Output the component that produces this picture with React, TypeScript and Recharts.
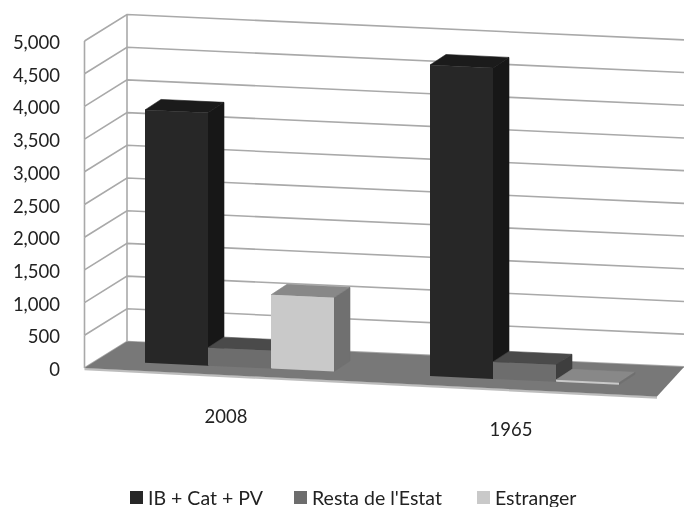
import React from "react";
import { BarChart, Bar, XAxis, YAxis, CartesianGrid, Legend } from "recharts";

const categories = ["2008", "1965"];
const ibCatPv = [3865, 4755];
const restaEstat = [275, 260];
const estranger = [1127, 30];
const yTicks = [0, 500, 1000, 1500, 2000, 2500, 3000, 3500, 4000, 4500, 5000];
const seriesNames = ["IB + Cat + PV", "Resta de l'Estat", "Estranger"];
const seriesFills = ["#272727", "#6d6d6d", "#c9c9c9"];

const rows = categories.map((c, i) => ({
  cat: c,
  ib: ibCatPv[i],
  resta: restaEstat[i],
  est: estranger[i],
}));

const FONT = "Lato, Carlito, sans-serif";
const TEXT = "#222";
const GRID = "#a9a9a9";
const SLOPE = 0.0465;
const LEFT_X = 84.5;
const BACK_X = 127;
const WALL_DY = -26.5;
const PLOT_BOTTOM = 368;
const STEP = 32.7;
const RIGHT_X = 684;
const DX = 16;
const DY = -10.5;

const tilt = (x: number) => (x - 145) * SLOPE - 5.3;

const pts = (a: number[][]) => a.map((p) => p.join(",")).join(" ");

const box = (front: string, top: string, side: string) => (props: any) => {
  const { x, y, width: w, height: h } = props;
  const yb = y + h;
  const l = tilt(x);
  const r = tilt(x + w);
  return (
    <g>
      <polygon
        points={pts([[x, y + l], [x + DX, y + l + DY], [x + w + DX, y + r + DY], [x + w, y + r]])}
        fill={top}
        stroke={top}
        strokeWidth={0.6}
      />
      <polygon
        points={pts([[x + w, y + r], [x + w + DX, y + r + DY], [x + w + DX, yb + r + DY], [x + w, yb + r]])}
        fill={side}
        stroke={side}
        strokeWidth={0.6}
      />
      <polygon points={pts([[x, y + l], [x + w, y + r], [x + w, yb + r], [x, yb + l]])} fill={front} />
    </g>
  );
};

const gridLine = (props: any) => {
  const y = props.y1;
  const isBottom = Math.abs(y - PLOT_BOTTOM) < 1;
  const by = y + WALL_DY;
  return (
    <g key={props.key ?? y}>
      <polyline
        points={pts([[LEFT_X, y], [BACK_X, by], [RIGHT_X, by + (RIGHT_X - BACK_X) * 0.0455]])}
        fill="none"
        stroke={GRID}
        strokeWidth={1.6}
      />
      {!isBottom && <line x1={LEFT_X} x2={LEFT_X} y1={y} y2={y + STEP} stroke={GRID} strokeWidth={1.6} />}
      {!isBottom && <line x1={BACK_X} x2={BACK_X} y1={by} y2={by + STEP} stroke={GRID} strokeWidth={1.6} />}
      {isBottom && (
        <g>
          <line x1={LEFT_X} y1={y + 1} x2={657} y2={397.5} stroke="#bdbdbd" strokeWidth={2.5} />
          <polygon
            points={pts([[LEFT_X, y], [BACK_X, by], [RIGHT_X, 367], [657, 396.5]])}
            fill="#787878"
          />
        </g>
      )}
    </g>
  );
};

const XTick = (props: any) => {
  const cx = props.x - 13.5;
  const y = 416.7 + (cx - 226) * SLOPE;
  return (
    <text x={cx} y={y} dy={6.5} textAnchor="middle" fontFamily={FONT} fontSize={18.5} fill={TEXT}>
      {props.payload.value}
    </text>
  );
};

const legendLefts = [130, 294, 477];
const LegendContent = () => (
  <div style={{ position: "relative", height: 22, width: 684, fontFamily: FONT, fontSize: 19.5, color: TEXT }}>
    {seriesNames.map((name, i) => (
      <div key={name} style={{ position: "absolute", left: legendLefts[i], top: 0, display: "flex", alignItems: "center", height: 22, whiteSpace: "nowrap" }}>
        <span style={{ display: "inline-block", width: 13, height: 13, background: seriesFills[i], marginRight: 5 }} />
        <span>{name}</span>
      </div>
    ))}
  </div>
);

export default function App() {
  return (
    <div style={{ position: "absolute", left: 0, top: 0, width: 684, height: 507, filter: "blur(0.7px)" }}>
      <BarChart
        width={684}
        height={507}
        data={rows}
        margin={{ top: 41, right: 17, bottom: 69, left: 0 }}
        barCategoryGap={48}
        barGap={0}
      >
        <CartesianGrid horizontal={gridLine} vertical={false} />
        <XAxis dataKey="cat" axisLine={false} tickLine={false} height={40} tick={XTick} />
        <YAxis
          width={97}
          domain={[0, 5000]}
          ticks={yTicks}
          axisLine={false}
          tickLine={false}
          tickSize={0}
          tickMargin={37}
          tickFormatter={(v: number) => v.toLocaleString("en-US")}
          tick={{ fontFamily: FONT, fontSize: 18.5, fill: TEXT, dy: 1.5 }}
        />
        <Legend
          height={30}
          content={LegendContent}
          wrapperStyle={{ top: 486, left: 0, bottom: "auto", width: 684 }}
        />
        <Bar dataKey="ib" name={seriesNames[0]} fill={seriesFills[0]} isAnimationActive={false} shape={box(seriesFills[0], "#1b1b1b", "#171717")} />
        <Bar dataKey="resta" name={seriesNames[1]} fill={seriesFills[1]} isAnimationActive={false} shape={box(seriesFills[1], "#4a4a4a", "#3e3e3e")} />
        <Bar dataKey="est" name={seriesNames[2]} fill={seriesFills[2]} isAnimationActive={false} shape={box(seriesFills[2], "#888888", "#707070")} />
      </BarChart>
    </div>
  );
}
